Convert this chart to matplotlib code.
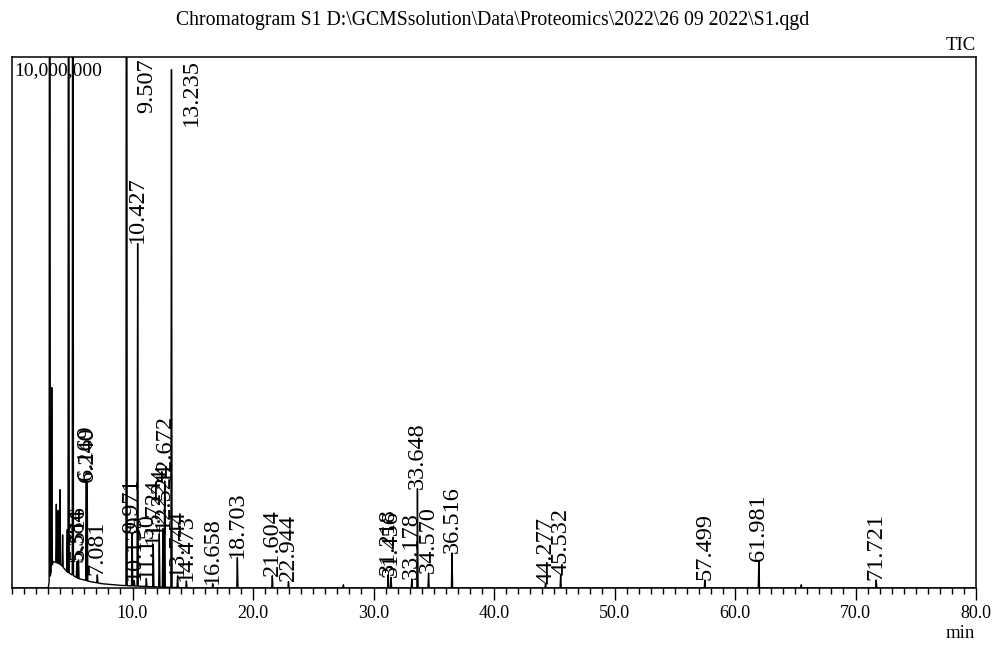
import matplotlib
matplotlib.use("Agg")
import matplotlib.pyplot as plt
import numpy as np
from matplotlib.ticker import MultipleLocator, FixedLocator

plt.rcParams["font.family"] = ["Liberation Serif", "DejaVu Serif"]

# retention time (min), apex height above baseline (counts), labelled?
peak_rt = [3.13, 3.30, 3.68, 3.84, 3.99, 4.20, 4.59, 4.70, 5.05,
           5.384, 5.516, 6.169, 6.240, 7.081, 9.507, 9.971, 10.139, 10.427,
           11.150, 11.724, 12.224, 12.524, 12.672, 13.235, 13.744, 14.473,
           16.658, 18.703, 21.604, 22.944, 27.5, 31.218, 31.456, 33.178,
           33.648, 34.570, 36.516, 44.277, 45.532, 57.499, 61.981, 65.5, 71.721]
peak_h = [2.5e7, 3.4e6, 1.1e6, 1.0e6, 1.4e6, 6.0e5, 8.0e5, 2.5e7, 2.5e7,
          3.0e5, 3.5e5, 1.9e6, 1.85e6, 1.5e5, 2.5e7, 1.0e6, 1.0e5, 6.45e6,
          1.5e5, 8.0e5, 1.0e6, 1.1e6, 2.0e6, 9.75e6, 2.2e5, 1.3e5,
          8.0e4, 5.7e5, 2.3e5, 1.2e5, 6.0e4, 2.5e5, 2.0e5, 1.7e5,
          1.87e6, 2.8e5, 6.6e5, 8.0e4, 2.5e5, 1.5e5, 5.1e5, 6.0e4, 1.5e5]
peak_label = [False, False, False, False, False, False, False, False, False,
              True, True, True, True, True, True, True, True, True,
              True, True, True, True, True, True, True, True,
              True, True, True, True, False, True, True, True,
              True, True, True, True, True, True, True, False, True]

# slow drift of the baseline in the solvent region
base_rt = [0.0, 3.0, 3.4, 4.0, 4.6, 5.5, 6.5, 7.5, 9.0, 12.0, 15.0, 80.0]
base_lvl = [0.0, 0.0, 5.0e5, 4.5e5, 3.0e5, 1.8e5, 1.2e5, 8.0e4, 5.0e4, 2.0e4, 0.0, 0.0]

half_w = 0.05
y_top = 1.0e7

# trace vertices: baseline points plus a triangle per peak
xs = list(base_rt)
ys = list(base_lvl)
for rt, h in zip(peak_rt, peak_h):
    b = np.interp(rt, base_rt, base_lvl)
    xs += [rt - half_w, rt, rt + half_w]
    ys += [np.interp(rt - half_w, base_rt, base_lvl), b + h,
           np.interp(rt + half_w, base_rt, base_lvl)]
order = np.argsort(xs, kind="stable")
xs = np.array(xs)[order]
ys = np.array(ys)[order]

fig = plt.figure(figsize=(9.93, 6.45), dpi=100)
ax = fig.add_axes([12 / 993, 1 - 588 / 645, 964 / 993, 531 / 645])
ax.plot(xs, ys, color="black", lw=1.0)
ax.set_xlim(0, 80)
ax.set_ylim(0, y_top)

for sp in ax.spines.values():
    sp.set_linewidth(1.1)
ax.yaxis.set_visible(False)
ax.xaxis.set_major_locator(FixedLocator(np.arange(10, 81, 10)))
ax.xaxis.set_minor_locator(MultipleLocator(1))
ax.set_xticklabels([f"{v:.1f}" for v in np.arange(10, 81, 10)], fontsize=13)
ax.tick_params(axis="x", which="major", direction="out", length=8.5, width=1.0, pad=4)
ax.tick_params(axis="x", which="minor", direction="out", length=4, width=1.0)

# peak labels: above apex, or beside it near the top when there is no room
label_len = 7.0e5
for rt, h, lab in zip(peak_rt, peak_h, peak_label):
    if not lab:
        continue
    txt = f"{rt:.3f}"
    apex = np.interp(rt, base_rt, base_lvl) + h
    if apex + label_len > y_top:
        ax.text(rt + 1.65, y_top * 0.997, txt, rotation=90, ha="center", va="top",
                fontsize=17.5)
    else:
        ax.text(rt, apex + 0.03e5, txt, rotation=90, ha="center", va="bottom",
                fontsize=17.5)

ax.text(0.002, 0.99, "10,000,000", transform=ax.transAxes, ha="left", va="top",
        fontsize=14)
fig.text(976 / 993, 1 - 46 / 645, "TIC", ha="right", va="center", fontsize=13.5)
fig.text(975 / 993, 1 - 634 / 645, "min", ha="right", va="center", fontsize=13.5)
fig.text(493 / 993, 1 - 20 / 645,
         "Chromatogram S1 D:\\GCMSsolution\\Data\\Proteomics\\2022\\26 09 2022\\S1.qgd",
         ha="center", va="center", fontsize=14.2)

fig.savefig("out.png", dpi=100)
